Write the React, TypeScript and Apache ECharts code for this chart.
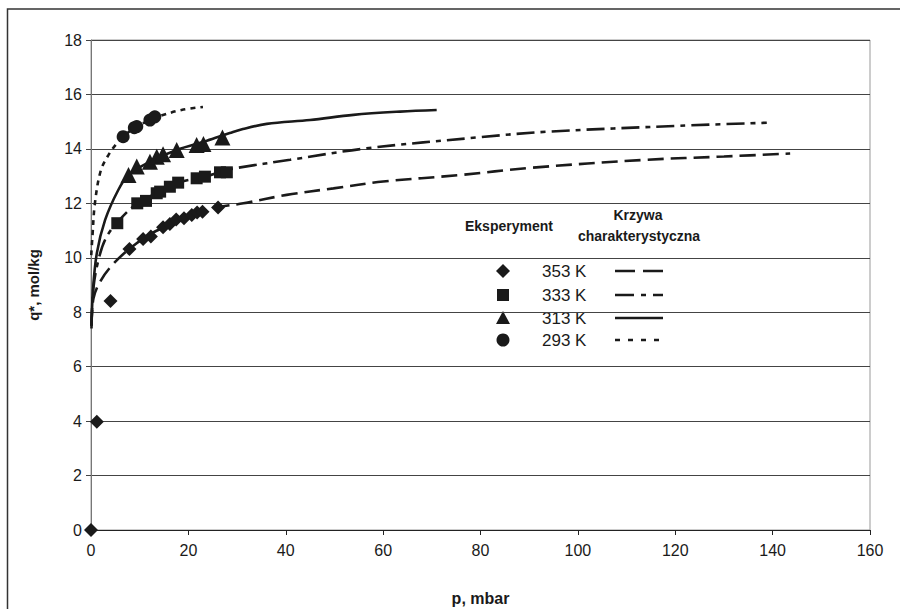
import React, { useEffect, useRef } from "react";
import * as echarts from "echarts";

// Experimental points [p (mbar), q* (mol/kg)]
const exp353: number[][] = [[0, 0], [1.2, 3.98], [4.0, 8.41], [7.9, 10.32], [10.7, 10.69], [12.3, 10.78], [14.8, 11.12], [16.2, 11.24], [17.5, 11.41], [19.1, 11.45], [20.7, 11.57], [21.8, 11.66], [22.9, 11.69], [26.1, 11.85]];
const exp333: number[][] = [[5.4, 11.27], [9.5, 12.0], [11.3, 12.09], [13.5, 12.37], [14.2, 12.43], [16.2, 12.61], [17.9, 12.76], [21.7, 12.92], [23.4, 12.98], [26.5, 13.14], [27.9, 13.14]];
const exp313: number[][] = [[7.7, 13.04], [9.4, 13.35], [12.1, 13.53], [13.5, 13.71], [14.8, 13.8], [17.6, 13.96], [21.7, 14.14], [23.1, 14.18], [27.0, 14.42]];
const exp293: number[][] = [[6.6, 14.45], [8.9, 14.78], [9.4, 14.82], [12.1, 15.06], [13.1, 15.18]];

// Characteristic curves
const curve353: number[][] = [[0.1, 7.5], [0.5, 8.5], [1.8, 9.1], [4.2, 9.7], [7.7, 10.3], [12, 10.85], [16, 11.2], [20, 11.5], [26, 11.85], [31.3, 12.0], [40.2, 12.31], [49.8, 12.55], [60, 12.8], [75.8, 13.04], [90, 13.3], [114, 13.6], [130, 13.72], [143.6, 13.83]];
const curve333: number[][] = [[0.1, 7.5], [0.5, 8.9], [1.5, 9.9], [3, 10.7], [5.4, 11.3], [9.5, 12.0], [13.5, 12.37], [17.9, 12.76], [23.4, 12.98], [27.5, 13.2], [30, 13.3], [40.9, 13.6], [56.6, 14.02], [79.9, 14.43], [93.6, 14.63], [121, 14.85], [138.8, 14.96]];
const curve313: number[][] = [[0.1, 7.4], [0.4, 8.8], [1.2, 10.17], [2.9, 11.39], [5.6, 12.49], [7.7, 13.04], [12.1, 13.53], [17.6, 13.96], [23.8, 14.3], [28.5, 14.58], [31.2, 14.73], [36.1, 14.92], [45, 15.06], [53.9, 15.25], [63.5, 15.37], [71, 15.43]];
const curve293: number[][] = [[0.05, 10.1], [0.3, 10.8], [0.8, 12.0], [2, 13.2], [3.6, 13.78], [5.3, 14.2], [6.6, 14.45], [9.2, 14.8], [12.1, 15.06], [14, 15.2], [18.6, 15.43], [23, 15.54]];

const legendLabels: string[] = ["353 K", "333 K", "313 K", "293 K"];
const xTitle = "p, mbar";
const yTitle = "q*, mol/kg";

const FONT = "'Liberation Sans', Arial, sans-serif";
const INK = "#1a1a1a";

export default function App() {
  const ref = useRef<HTMLDivElement>(null);
  useEffect(() => {
    if (!ref.current) return;
    const chart = echarts.init(ref.current, undefined, { renderer: "svg" });

    const dashes: any[] = [[16, 7], [18, 6, 5, 6], "solid", [5, 5]];
    const legendDashes: any[] = [[20, 8], [19, 7, 5, 7], null, [5, 8]];
    const curves = [curve353, curve333, curve313, curve293];
    const exps = [exp353, exp333, exp313, exp293];
    const symbols = ["diamond", "rect", "triangle", "circle"];
    const symSizes = [14, 12, 16, 13];

    const lineSeries = curves.map((c, i) => ({
      type: "line",
      name: "c" + i,
      data: c,
      smooth: 0.35,
      showSymbol: false,
      symbol: "none",
      lineStyle: { color: INK, width: 2.6, type: dashes[i] },
      z: 2,
    }));
    const scatterSeries = exps.map((d, i) => ({
      type: "scatter",
      name: legendLabels[i],
      data: d,
      symbol: symbols[i],
      symbolSize: symSizes[i],
      itemStyle: { color: INK, opacity: 1 },
      z: 3,
    }));

    const legendX = 503;
    const rowsY = [271, 295, 318, 340];
    const graphics: any[] = [
      {
        type: "rect",
        shape: { x: 7.5, y: 9, width: 1000, height: 800 },
        style: { fill: "none", stroke: "#333", lineWidth: 1.5 },
        silent: true,
      },
      {
        type: "text",
        x: 465, y: 226,
        style: { text: "Eksperyment", font: `bold 14px ${FONT}`, fill: INK, textVerticalAlign: "middle" },
      },
      {
        type: "text",
        x: 638, y: 215,
        style: { text: "Krzywa", font: `bold 14px ${FONT}`, fill: INK, textAlign: "center", textVerticalAlign: "middle" },
      },
      {
        type: "text",
        x: 639, y: 236,
        style: { text: "charakterystyczna", font: `bold 14px ${FONT}`, fill: INK, textAlign: "center", textVerticalAlign: "middle" },
      },
    ];
    rowsY.forEach((y, i) => {
      if (i === 0) {
        graphics.push({ type: "polygon", shape: { points: [[legendX, y - 7], [legendX + 7, y], [legendX, y + 7], [legendX - 7, y]] }, style: { fill: INK } });
      } else if (i === 1) {
        graphics.push({ type: "rect", shape: { x: legendX - 6, y: y - 6, width: 12, height: 12 }, style: { fill: INK } });
      } else if (i === 2) {
        graphics.push({ type: "polygon", shape: { points: [[legendX, y - 7], [legendX + 7, y + 6], [legendX - 7, y + 6]] }, style: { fill: INK } });
      } else {
        graphics.push({ type: "circle", shape: { cx: legendX, cy: y, r: 6.5 }, style: { fill: INK } });
      }
      graphics.push({
        type: "text",
        x: 542, y,
        style: { text: legendLabels[i], font: `17px ${FONT}`, fill: INK, textVerticalAlign: "middle" },
      });
      graphics.push({
        type: "line",
        shape: { x1: 615, y1: y, x2: 663, y2: y },
        style: { stroke: INK, lineWidth: 2.6, lineDash: legendDashes[i] },
      });
    });

    chart.setOption({
      animation: false,
      backgroundColor: "#fff",
      textStyle: { fontFamily: FONT },
      grid: {
        left: 91, right: 30, top: 40, bottom: 79,
        containLabel: false,
        outerBoundsMode: "none",
        show: true, borderColor: "#999", borderWidth: 1, backgroundColor: "transparent",
      },
      xAxis: {
        type: "value",
        min: 0, max: 160, interval: 20,
        name: xTitle,
        nameLocation: "middle",
        nameGap: 60,
        nameTextStyle: { fontFamily: FONT, fontWeight: "bold", fontSize: 16, color: INK },
        axisLine: { show: true, lineStyle: { color: "#222", width: 1 } },
        axisTick: { show: true, length: 5, lineStyle: { color: "#222" } },
        axisLabel: { fontFamily: FONT, fontSize: 16, color: INK, margin: 12 },
        splitLine: { show: false },
      },
      yAxis: {
        type: "value",
        min: 0, max: 18, interval: 2,
        name: yTitle,
        nameLocation: "middle",
        nameGap: 50,
        nameRotate: 90,
        nameTextStyle: { fontFamily: FONT, fontWeight: "bold", fontSize: 15, color: INK },
        axisLine: { show: true, lineStyle: { color: "#777", width: 1 } },
        axisTick: { show: true, length: 5, lineStyle: { color: "#444" } },
        axisLabel: { fontFamily: FONT, fontSize: 16, color: INK, margin: 9 },
        splitLine: { show: true, lineStyle: { color: "#444", width: 1 } },
      },
      series: [...lineSeries, ...scatterSeries],
      graphic: graphics,
    });
    return () => chart.dispose();
  }, []);
  return <div ref={ref} style={{ position: "fixed", left: 0, top: 0, width: 900, height: 609, background: "#fff" }} />;
}
